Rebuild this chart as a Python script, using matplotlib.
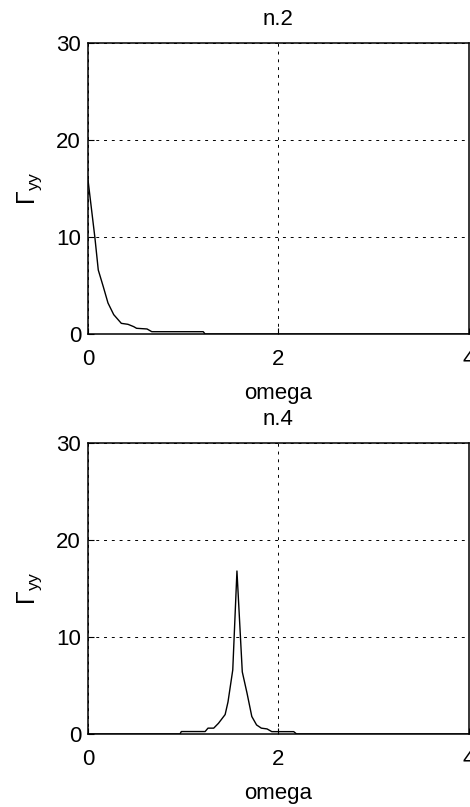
import matplotlib
matplotlib.use("Agg")
import matplotlib.pyplot as plt

plt.rcParams['font.family'] = ['Liberation Sans', 'DejaVu Sans']
plt.rcParams['mathtext.fontset'] = 'custom'
plt.rcParams['mathtext.rm'] = 'Liberation Sans'
plt.rcParams['mathtext.it'] = 'Liberation Sans'

# Data
omega_top = [0.0, 0.073, 0.108, 0.16, 0.21, 0.27, 0.35, 0.42, 0.48, 0.51, 0.62, 0.67,
             1.21, 1.23, 4.0]
gyy_top = [15.9, 9.9, 6.6, 4.9, 3.2, 2.0, 1.1, 1.0, 0.76, 0.59, 0.52, 0.24,
           0.24, 0.0, 0.0]

omega_bot = [0.0, 0.966, 0.98, 1.23, 1.26, 1.32, 1.37, 1.44, 1.47, 1.52, 1.564, 1.62,
             1.67, 1.72, 1.77, 1.82, 1.88, 1.93, 2.16, 2.19, 4.0]
gyy_bot = [0.0, 0.0, 0.25, 0.25, 0.6, 0.6, 1.1, 2.0, 3.3, 6.6, 16.8, 6.4,
           4.2, 1.8, 0.93, 0.6, 0.52, 0.24, 0.24, 0.0, 0.0]

titles = ["n.2", "n.4"]
xticks = [0, 2, 4]
yticks = [0, 10, 20, 30]
xlabel = "omega"
ylabel = r"$\Gamma_{\mathrm{yy}}$"

fig = plt.figure(figsize=(4.70, 8.07), dpi=100)
positions = [[0.1872, 0.5861, 0.8106, 0.3606], [0.1872, 0.0905, 0.8106, 0.3606]]
series = [(omega_top, gyy_top), (omega_bot, gyy_bot)]

for pos, (xs, ys), title in zip(positions, series, titles):
    ax = fig.add_axes(pos)
    ax.plot(xs, ys, color='black', lw=1.0)
    ax.set_xlim(0, 4)
    ax.set_ylim(0, 30)
    ax.set_xticks(xticks)
    ax.set_yticks(yticks)
    ax.tick_params(direction='in', length=4, width=0.8, labelsize=16)
    ax.tick_params(axis='x', pad=11)
    ax.tick_params(axis='y', pad=5)
    ax.grid(True, color='black', linestyle=(0, (3, 5)), linewidth=0.7)
    for s in ax.spines.values():
        s.set_linewidth(1.1)
    ax.set_title(title, fontsize=16, pad=13)
    ax.set_xlabel(xlabel, fontsize=16, labelpad=9)
    ax.set_ylabel(ylabel, fontsize=18, labelpad=9)

fig.savefig("out.png", dpi=100)
